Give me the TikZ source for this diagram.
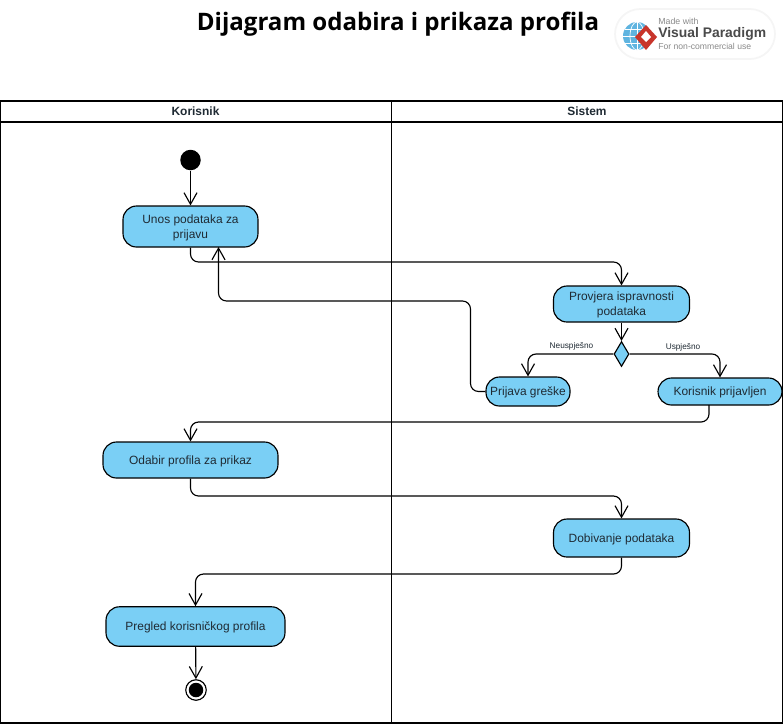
\documentclass[tikz,border=0pt]{standalone}
\usepackage{fontspec}
\setmainfont{Liberation Sans}
\newfontfamily\naslovfont{Open Sans}
\usetikzlibrary{arrows.meta,shapes.geometric}
\definecolor{plava}{HTML}{7ACFF5}
\definecolor{tekst}{HTML}{1F2A33}
\definecolor{logosiva}{HTML}{8A8A8A}
\definecolor{logotamna}{HTML}{4A4A4A}
\definecolor{logocrvena}{HTML}{C8352B}
\definecolor{logoplava}{HTML}{5FB4E0}
\tikzset{
	aktivnost/.style={draw=black,line width=0.65pt,fill=plava,rounded corners=0.27cm,align=center,inner sep=0pt,text depth=0pt,text=tekst,font=\fontsize{6.8}{8.6}\selectfont},
	tok/.style={draw=black,line width=0.65pt,rounded corners=0.16cm,-{Straight Barb[length=6.6pt,width=7.4pt,line width=0.65pt]}},
	oznaka/.style={inner sep=0pt,font=\fontsize{4.7}{5}\selectfont,text=tekst},
	staza/.style={inner sep=0pt,font=\bfseries\fontsize{6.8}{8}\selectfont,text=tekst}
}
\begin{document}
\begin{tikzpicture}[x=0.02cm,y=-0.02cm]
	\useasboundingbox (0,0) rectangle (783,725);
	% naslov
	\node(naslov) at(398,24)[inner sep=0pt,font=\naslovfont\bfseries\fontsize{13.7}{15}\selectfont]{Dijagram odabira i prikaza profila};
	% logo
	\draw[draw=black!4,line width=1pt,fill=white,rounded corners=0.5cm](615,9) rectangle (775,59);
	\fill[logoplava](637,36) circle [radius=14];
	\draw[white,line width=0.4pt](623,36)--(651,36);
	\draw[white,line width=0.4pt](625,29)--(649,29);
	\draw[white,line width=0.4pt](625,43)--(649,43);
	\draw[white,line width=0.4pt](637,22)--(637,50);
	\draw[white,line width=0.4pt](637,36) ellipse [x radius=7,y radius=14];
	\fill[logocrvena](646,25)--(657,37)--(646,50)--(635,37)--cycle;
	\fill[white](646,31)--(651,37)--(646,42)--(641,37)--cycle;
	\node(logoa) at(658,21)[anchor=west,inner sep=0pt,text=logosiva,font=\fontsize{5}{6}\selectfont]{Made with};
	\node(logob) at(658,33.5)[anchor=west,inner sep=0pt,text=logotamna,font=\bfseries\fontsize{7.9}{9}\selectfont]{Visual Paradigm};
	\node(logoc) at(658,46)[anchor=west,inner sep=0pt,text=logosiva,font=\fontsize{4.9}{6}\selectfont]{For non-commercial use};
	% staze
	\draw[line width=0.6pt](0.5,101) rectangle (782.5,723);
	\draw[line width=0.6pt](0.5,122)--(782.5,122);
	\draw[line width=0.6pt](391.5,101)--(391.5,723);
	\node(korisnik) at(195.5,111.5)[staza]{Korisnik};
	\node(sistem) at(587,111.5)[staza]{Sistem};
	% aktivnosti
	\node(start) at(190.5,160)[circle,fill=black,inner sep=0pt,minimum size=0.41cm]{};
	\node(unos) at(190.5,226.5)[aktivnost,minimum width=2.7cm,minimum height=0.82cm]{Unos podataka za\\prijavu};
	\node(provjera) at(621.5,304)[aktivnost,minimum width=2.72cm,minimum height=0.72cm]{Provjera ispravnosti\\podataka};
	\node(odluka) at(621.5,354)[diamond,draw=black,line width=0.65pt,fill=plava,inner sep=0pt,minimum width=0.3cm,minimum height=0.5cm]{};
	\node(prijava) at(528,391.5)[aktivnost,minimum width=1.68cm,minimum height=0.58cm]{Prijava greške};
	\node(uspjeh) at(720,391.5)[aktivnost,minimum width=2.48cm,minimum height=0.54cm]{Korisnik prijavljen};
	\node(odabir) at(190.5,460)[aktivnost,minimum width=3.5cm,minimum height=0.72cm]{Odabir profila za prikaz};
	\node(dobivanje) at(621.5,538)[aktivnost,minimum width=2.72cm,minimum height=0.76cm]{Dobivanje podataka};
	\node(pregled) at(195.5,626.5)[aktivnost,minimum width=3.58cm,minimum height=0.79cm]{Pregled korisničkog profila};
	\node(kraj) at(196,690)[circle,draw=black,line width=0.65pt,fill=white,inner sep=0pt,minimum size=0.41cm]{};
	\node(krajtocka) at(196,690)[circle,fill=black,inner sep=0pt,minimum size=0.29cm]{};
	% pomocne tacke
	\coordinate(redunos) at(0,262);
	\coordinate(povratak) at(470.5,301);
	\coordinate(unosulaz) at(218.5,247);
	\coordinate(uspjehizlaz) at(709,405);
	\coordinate(redodabir) at(0,422);
	\coordinate(reddobivanje) at(0,496);
	\coordinate(redpregled) at(0,574);
	% tokovi
	\draw[tok](start)--(unos);
	\draw[tok](unos.south)|-(provjera.north |- redunos)--(provjera.north);
	\draw[tok](provjera)--(odluka);
	\draw[tok](odluka.west)-|(prijava.north);
	\draw[tok](odluka.east)-|(uspjeh.north);
	\draw[tok](prijava.west)-|(povratak)-|(unosulaz);
	\draw[tok](uspjehizlaz)|-(odabir.north |- redodabir)--(odabir.north);
	\draw[tok](odabir.south)|-(dobivanje.north |- reddobivanje)--(dobivanje.north);
	\draw[tok](dobivanje.south)|-(pregled.north |- redpregled)--(pregled.north);
	\draw[tok](pregled)--(kraj);
	% oznake
	\node(neuspjesno) at(571.5,346)[oznaka]{Neuspješno};
	\node(uspjesno) at(683,347)[oznaka]{Uspješno};
\end{tikzpicture}
\end{document}
